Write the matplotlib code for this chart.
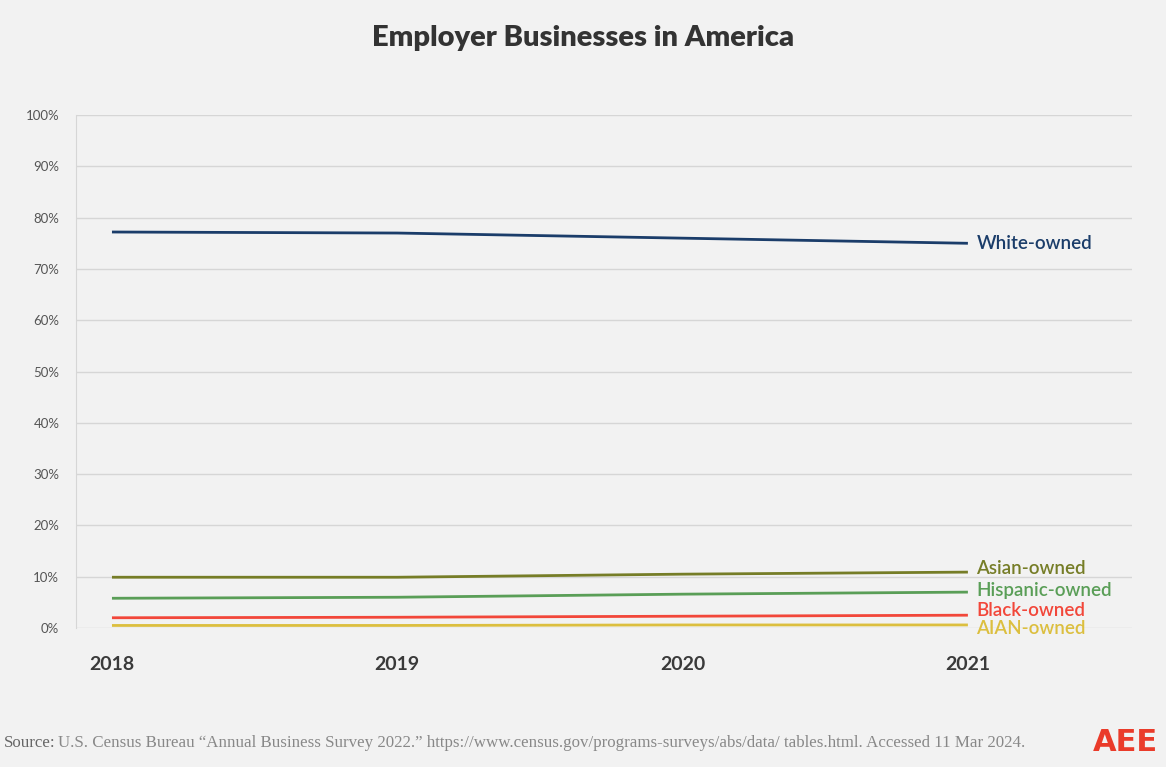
import matplotlib.pyplot as plt
from matplotlib.ticker import FuncFormatter

years = [2018, 2019, 2020, 2021]
series_names = ['White-owned', 'Asian-owned', 'Hispanic-owned', 'Black-owned', 'AIAN-owned']
white = [77.2, 77.0, 76.0, 75.0]
asian = [9.9, 9.9, 10.5, 10.9]
hispanic = [5.8, 6.0, 6.6, 7.0]
black = [2.0, 2.1, 2.3, 2.5]
aian = [0.5, 0.5, 0.6, 0.6]

colors = ['#1b3d6a', '#767d27', '#5a9e57', '#f2473a', '#dcbf3f']
label_shift = [0.0, 0.8, 0.4, 1.0, -0.7]

bg = '#f2f2f2'
plt.rcParams['font.family'] = ['Lato', 'DejaVu Sans']

fig = plt.figure(figsize=(11.66, 7.67), dpi=100, facecolor=bg)
ax = fig.add_axes([0.0652, 0.1812, 0.9056, 0.6688])
ax.set_facecolor(bg)

for name, vals, c, dy in zip(series_names, [white, asian, hispanic, black, aian], colors, label_shift):
    ax.plot(years, vals, color=c, linewidth=2.0, solid_capstyle='butt', zorder=3)
    ax.text(years[-1] + 0.03, vals[-1] + dy, name, color=c, fontsize=13.5,
            fontweight='semibold', va='center', ha='left', zorder=4)

ax.set_xlim(2017.874, 2021.575)
ax.set_ylim(0, 100)
ax.set_yticks(range(0, 101, 10))
ax.yaxis.set_major_formatter(FuncFormatter(lambda v, p: f'{int(v)}%'))
ax.set_xticks(years)
ax.set_xticklabels([str(y) for y in years], fontsize=14, fontweight='bold', color='#3a3a3a')
ax.tick_params(axis='y', length=0, labelsize=9.5, labelcolor='#555555', pad=12)
ax.tick_params(axis='x', length=0, pad=20)
ax.grid(axis='y', color='#d6d6d6', linewidth=1)
for s in ['top', 'right', 'bottom']:
    ax.spines[s].set_visible(False)
ax.spines['left'].set_color('#d6d6d6')

fig.text(0.5, 0.951, 'Employer Businesses in America', ha='center', va='center',
         fontsize=21, fontweight='heavy', color='#333333')

fig.text(0.003, 0.031, 'Source:', ha='left', va='center', fontsize=12.2,
         color='#666666', family='Liberation Serif')
fig.text(0.050, 0.031, 'U.S. Census Bureau \u201cAnnual Business Survey 2022.\u201d '
         'https://www.census.gov/programs-surveys/abs/data/ tables.html. Accessed 11 Mar 2024.',
         ha='left', va='center', fontsize=12.2, color='#888888', family='Liberation Serif')
fig.text(0.965, 0.032, 'AEE', ha='center', va='center', fontsize=22, fontweight='bold',
         color='#ea3b2a', family='DejaVu Sans')

fig.savefig('out.png', dpi=100, facecolor=bg)
